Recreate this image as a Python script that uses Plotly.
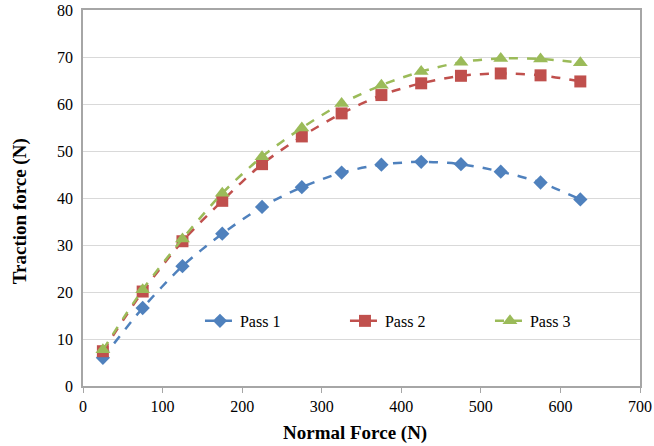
import plotly.graph_objects as go

normal_force = [25, 75, 125, 175, 225, 275, 325, 375, 425, 475, 525, 575, 625]
pass1 = [6.0, 16.6, 25.5, 32.4, 38.1, 42.3, 45.4, 47.1, 47.7, 47.2, 45.6, 43.3, 39.7]
pass2 = [7.4, 20.1, 30.8, 39.4, 47.2, 53.1, 58.0, 61.9, 64.4, 66.0, 66.5, 66.1, 64.8]
pass3 = [7.7, 20.5, 31.3, 41.0, 48.8, 54.9, 60.1, 64.0, 66.9, 68.9, 69.7, 69.6, 68.8]
names = ["Pass 1", "Pass 2", "Pass 3"]
colors = ["#4F81BD", "#C0504D", "#9BBB59"]
symbols = ["diamond", "square", "triangle-up"]
sizes = [11, 12, 13]

fig = go.Figure()
for ys, n, c, s, sz in zip([pass1, pass2, pass3], names, colors, symbols, sizes):
    fig.add_trace(go.Scatter(
        x=normal_force, y=ys, name=n, mode="lines+markers",
        line=dict(color=c, width=2.5, dash="dash", shape="spline", smoothing=0.8),
        marker=dict(symbol=s, size=sz, color=c),
    ))

font_family = "Liberation Serif"
fig.update_layout(
    width=654, height=446,
    margin=dict(l=83, r=14, t=10, b=60, autoexpand=False),
    paper_bgcolor="white", plot_bgcolor="white",
    font=dict(family=font_family, size=16, color="black"),
    legend=dict(orientation="h", x=0.21, y=0.173, xanchor="left", yanchor="middle",
                bgcolor="rgba(0,0,0,0)", font=dict(size=16, family=font_family),
                entrywidth=100, entrywidthmode="pixels"),
    xaxis=dict(range=[0, 700], dtick=100, showgrid=False, showline=True,
               linecolor="#A6A6A6", linewidth=1.5, mirror=True,
               ticks="outside", ticklen=5, tickcolor="#A6A6A6", automargin=False,
               tickfont=dict(family=font_family, size=16),
               zeroline=False),
    yaxis=dict(range=[0, 80], dtick=10, showgrid=True, gridcolor="#D9D9D9", gridwidth=1,
               showline=True, linecolor="#A6A6A6", linewidth=1.5, mirror=True, automargin=False,
               tickfont=dict(family=font_family, size=16), ticklabelstandoff=5,
               ticks="", zeroline=False),
    annotations=[
        dict(text="<b>Normal Force (N)</b>", xref="paper", yref="paper",
             x=0.489, y=-0.125, xanchor="center", yanchor="middle", showarrow=False,
             font=dict(size=19, family=font_family)),
        dict(text="<b>Traction force (N)</b>", xref="paper", yref="paper",
             x=-0.113, y=0.465, xanchor="center", yanchor="middle", showarrow=False,
             textangle=-90, font=dict(size=19, family=font_family)),
    ],
)
fig.write_html("out.html", config={"displayModeBar": False},
               post_script="document.body.style.margin='0';document.body.style.overflow='hidden';")
